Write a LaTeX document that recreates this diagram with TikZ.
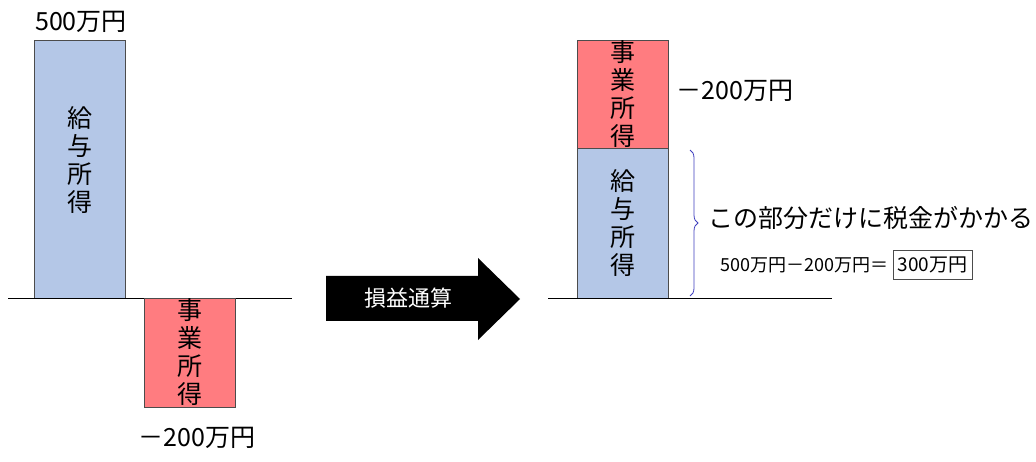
\documentclass[tikz,border=0pt]{standalone}
\usepackage{fontspec}
\setmainfont{Noto Sans CJK JP}
\usetikzlibrary{decorations.pathreplacing}
\definecolor{bblue}{HTML}{B4C7E7}
\definecolor{bred}{HTML}{FF7C80}
\begin{document}
\begin{tikzpicture}[x=1pt,y=-1pt,
  bar/.style={draw=black!70,line width=0.8pt,inner sep=0pt},
  vt/.style={font=\fontsize{25}{28}\selectfont,align=center},
  lbl/.style={font=\fontsize{25}{28}\selectfont,inner sep=0pt}]
\useasboundingbox[fill=white] (0,0) rectangle (1036,462);
% left
\draw[bar,fill=bblue] (34,40) rectangle (125,298);
\node[vt] (l1) at (79.5,160) {給\\与\\所\\得};
\node[lbl] (l500) at (81,22) {500万円};
\draw[line width=0.8pt] (8,298) coordinate (la) -- (292,298) coordinate (lb);
\draw[bar,fill=bred] (144,298) rectangle (235,407);
\node[vt] (l2) at (189.5,352) {事\\業\\所\\得};
\node[lbl] (l200) at (197,438) {－200万円};
% arrow
\fill[black] (326,276) -- (478,276) -- (478,258) -- (520,299) -- (478,340) -- (478,321) -- (326,321) -- cycle;
\node[lbl,text=white,font=\fontsize{22}{24}\selectfont] (t) at (408,298) {損益通算};
% right
\draw[bar,fill=bred] (577,40) rectangle (668,148);
\draw[bar,fill=bblue] (577,148) rectangle (668,298);
\node[vt] (r1) at (622.5,94) {事\\業\\所\\得};
\node[vt] (r2) at (622.5,223) {給\\与\\所\\得};
\draw[line width=0.8pt] (548,298) coordinate (ra) -- (832,298) coordinate (rb);
\node[lbl] (r200) at (735,91) {－200万円};
\draw[color=blue!50!gray,line width=0.8pt,decorate,decoration={brace,amplitude=8pt}] (690,150) coordinate (b1) -- (690,296) coordinate (b2);
\node[lbl,anchor=west] (tx) at (708,218) {この部分だけに税金がかかる};
\node[font=\fontsize{18}{20}\selectfont,anchor=west,inner sep=0pt] (eq) at (720,265) {500万円－200万円＝};
\node[draw=black!70,font=\fontsize{19}{21}\selectfont,minimum width=79pt,minimum height=29pt,inner sep=1pt] (res) at (932.5,265) {300万円};
\end{tikzpicture}
\end{document}
